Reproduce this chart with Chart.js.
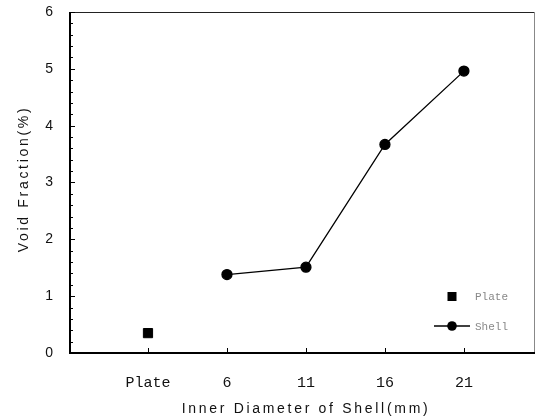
<!DOCTYPE html>
<html>
<head>
<meta charset="utf-8">
<script src="https://cdn.jsdelivr.net/npm/chart.js@4/dist/chart.umd.min.js"></script>
<style>
  body { margin: 0; background: #fff; }
  #wrap { width: 537px; height: 419px; }
</style>
</head>
<body>
<div id="wrap"><canvas id="chart" width="537" height="419"></canvas></div>
<script>
// data
var categories = ['Plate', '6', '11', '16', '21'];
var plateValues = [0.35, null, null, null, null];
var shellValues = [null, 1.38, 1.51, 3.67, 4.96];
var yTicks = [0, 1, 2, 3, 4, 5, 6];

var xTitle = 'Inner Diameter of Shell(mm)';
var yTitle = 'Void Fraction(%)';

function toPoints(vals){
  return vals.map((v, i) => ({x: i, y: v}));
}

function noPad(s){
  s.paddingTop = 0; s.paddingBottom = 0;
  s.paddingLeft = 0; s.paddingRight = 0;
}

// frame, inward ticks, axis titles and the little legend
var framePlugin = {
  id: 'frame',
  afterDraw: function(chart){
    var ctx = chart.ctx;
    var a = chart.chartArea;
    var xs = chart.scales.x, ys = chart.scales.y;
    ctx.save();

    // top + right (thin)
    ctx.strokeStyle = '#222';
    ctx.lineWidth = 1;
    ctx.beginPath();
    ctx.moveTo(a.left, a.top + 0.5); ctx.lineTo(a.right, a.top + 0.5);
    ctx.stroke();
    ctx.strokeStyle = '#888';
    ctx.beginPath();
    ctx.moveTo(a.right - 0.5, a.top); ctx.lineTo(a.right - 0.5, a.bottom);
    ctx.stroke();

    // left + bottom (thick)
    ctx.strokeStyle = '#000';
    ctx.lineWidth = 2;
    ctx.beginPath();
    ctx.moveTo(a.left + 1, a.top); ctx.lineTo(a.left + 1, a.bottom);
    ctx.lineTo(a.right, a.bottom);
    ctx.stroke();

    // y ticks inward, minor every 0.2
    ctx.lineWidth = 1;
    for (var v = 0; v <= 6.001; v += 0.2){
      var py = Math.round(ys.getPixelForValue(v)) + 0.5;
      var major = Math.abs(v - Math.round(v)) < 0.01;
      ctx.beginPath();
      ctx.moveTo(a.left + 1, py);
      ctx.lineTo(a.left + (major ? 6 : 4), py);
      ctx.stroke();
    }
    // x ticks inward
    categories.forEach(function(c, i){
      var px = Math.round(xs.getPixelForValue(i)) + 0.5;
      ctx.beginPath();
      ctx.moveTo(px, a.bottom);
      ctx.lineTo(px, a.bottom - 5);
      ctx.stroke();
    });

    // axis titles
    ctx.fillStyle = '#111';
    ctx.font = '14px "Liberation Sans", Arial, sans-serif';
    ctx.letterSpacing = '2.7px';
    ctx.textAlign = 'center';
    ctx.textBaseline = 'middle';
    ctx.fillText(xTitle, 306, 409);
    ctx.translate(24, 179);
    ctx.rotate(-Math.PI / 2);
    ctx.fillText(yTitle, 0, 0);
    ctx.setTransform(1, 0, 0, 1, 0, 0);
    ctx.letterSpacing = '0px';

    // legend
    var lx = 452;
    ctx.fillStyle = '#000';
    ctx.fillRect(lx - 4.5, 292, 9, 9);
    ctx.strokeStyle = '#000';
    ctx.lineWidth = 1.3;
    ctx.beginPath();
    ctx.moveTo(434, 326); ctx.lineTo(470, 326);
    ctx.stroke();
    ctx.beginPath();
    ctx.arc(lx, 326, 4.8, 0, Math.PI * 2);
    ctx.fill();
    ctx.fillStyle = '#888';
    ctx.font = '11px "Liberation Mono", monospace';
    ctx.textAlign = 'left';
    ctx.fillText('Plate', 475, 297);
    ctx.fillText('Shell', 475, 327);

    ctx.restore();
  }
};

new Chart(document.getElementById('chart'), {
  type: 'scatter',
  data: {
    datasets: [
      {
        label: 'Plate',
        data: toPoints(plateValues),
        showLine: false,
        pointStyle: 'rect',
        pointRadius: 6.5,
        backgroundColor: '#000',
        borderColor: '#000'
      },
      {
        label: 'Shell',
        data: toPoints(shellValues),
        showLine: true,
        pointStyle: 'circle',
        pointRadius: 5,
        borderWidth: 1.3,
        backgroundColor: '#000',
        borderColor: '#000'
      }
    ]
  },
  options: {
    responsive: false,
    animation: false,
    layout: { autoPadding: false, padding: { top: 12, right: 2, left: 0, bottom: 0 } },
    plugins: {
      legend: { display: false },
      tooltip: { enabled: false }
    },
    scales: {
      x: {
        type: 'linear',
        min: -1,
        max: 4.9,
        afterFit: function(s){ s.height = 66; noPad(s); },
        afterBuildTicks: function(s){ s.ticks = categories.map((c, i) => ({value: i})); },
        grid: { display: false, drawTicks: false },
        border: { display: false },
        ticks: {
          padding: 21,
          color: '#111',
          font: { family: '"Liberation Mono", monospace', size: 15 },
          callback: function(v){ return categories[v]; }
        }
      },
      y: {
        min: 0,
        max: 6,
        afterFit: function(s){ s.width = 69; noPad(s); },
        afterBuildTicks: function(s){ s.ticks = yTicks.map(v => ({value: v})); },
        grid: { display: false, drawTicks: false },
        border: { display: false },
        ticks: {
          padding: 16,
          color: '#111',
          font: { family: '"Liberation Sans", Arial, sans-serif', size: 14 }
        }
      }
    }
  },
  plugins: [framePlugin]
});
</script>
</body>
</html>
